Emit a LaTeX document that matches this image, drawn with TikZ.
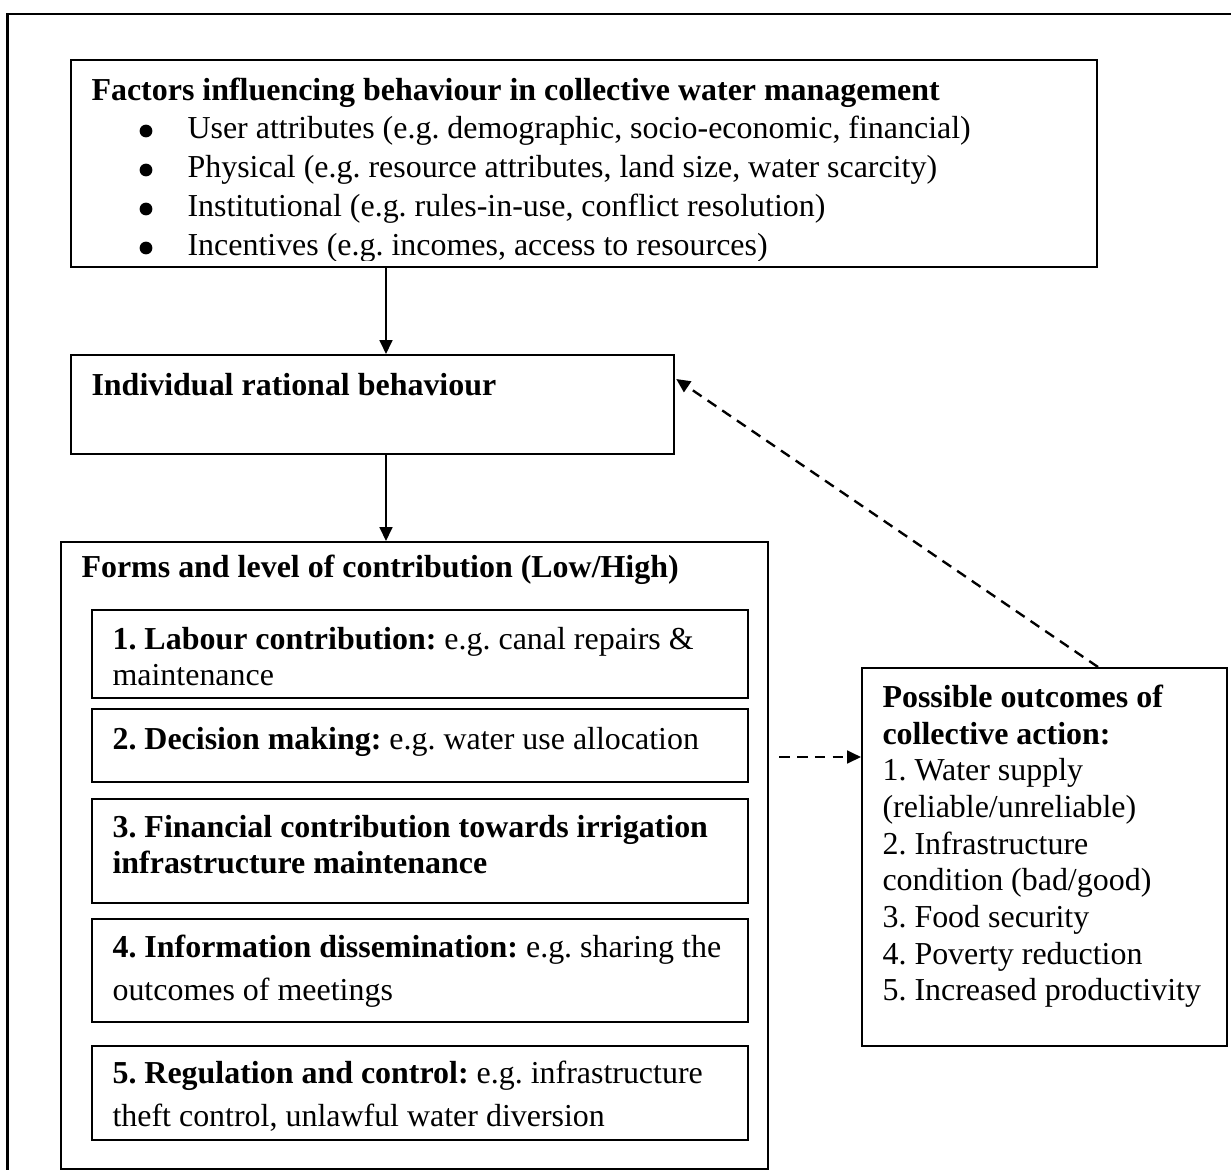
\documentclass[tikz,border=0pt]{standalone}
\usepackage{fontspec}
\setmainfont{Liberation Serif}
\usetikzlibrary{arrows.meta,calc}
\begin{document}
\frenchspacing
\begin{tikzpicture}[x=0.36pt,y=-0.36pt,
  box/.style={draw, line width=0.8pt, rectangle, inner sep=0pt, anchor=north west},
  txt/.style={anchor=base west, inner sep=0pt, font=\fontsize{11.5}{14}\selectfont},
  btxt/.style={anchor=base west, inner sep=0pt, font=\fontsize{11.5}{14}\selectfont\bfseries},
  bul/.style={circle, fill, inner sep=0pt, minimum size=4.6pt},
  arr/.style={line width=0.85pt, -{Triangle[length=5pt,width=4.6pt]}},
  darr/.style={arr, dash pattern=on 3.8pt off 2.6pt}]
\useasboundingbox (0,0) rectangle (1231,1170);
% outer frame (runs off the page to the right and bottom)
\draw[line width=0.95pt] (7.5,1180) -- (7.5,14) -- (1240,14);

% ---- top box
\node[box, minimum width=369.36pt, minimum height=74.52pt] (top) at (70,59) {};
\node[btxt] (ttl) at (91,100) {Factors influencing behaviour in collective water management};
\node[bul] (b1) at (146,131) {}; \node[txt] (l1) at (187,138) {User attributes (e.g. demographic, socio-economic, financial)};
\node[bul] (b2) at (146,170) {}; \node[txt] (l2) at (187,177) {Physical (e.g. resource attributes, land size, water scarcity)};
\node[bul] (b3) at (146,209) {}; \node[txt] (l3) at (187,216) {Institutional (e.g. rules-in-use, conflict resolution)};
\node[bul] (b4) at (146,248) {};
\begin{scope}
\clip (70,59) rectangle (1096,260);
\node[txt] (l4) at (187,255) {Incentives (e.g. incomes, access to resources)};
\end{scope}

% ---- individual box
\node[box, minimum width=217.08pt, minimum height=35.64pt] (ind) at (70,354) {};
\node[btxt] (indt) at (91,395) {Individual rational behaviour};

% ---- forms box
\node[box, minimum width=254.52pt, minimum height=225.72pt] (forms) at (60,541) {};
\node[btxt] (formst) at (81,577) {Forms and level of contribution (Low/High)};

\node[box, minimum width=236.16pt, minimum height=31.68pt] (c1) at (91,609) {};
\node[txt] (c1a) at (112,649) {\textbf{1. Labour contribution:} e.g. canal repairs \&};
\node[txt] (c1b) at (112,685) {maintenance};

\node[box, minimum width=236.16pt, minimum height=26.28pt] (c2) at (91,708) {};
\node[txt] (c2a) at (112,749) {\textbf{2. Decision making:} e.g. water use allocation};

\node[box, minimum width=236.16pt, minimum height=37.44pt] (c3) at (91,798) {};
\node[btxt] (c3a) at (112,837) {3. Financial contribution towards irrigation};
\node[btxt] (c3b) at (112,873) {infrastructure maintenance};

\node[box, minimum width=236.16pt, minimum height=37.08pt] (c4) at (91,918) {};
\node[txt] (c4a) at (112,957) {\textbf{4. Information dissemination:} e.g. sharing the};
\node[txt] (c4b) at (112,1000) {outcomes of meetings};

\node[box, minimum width=236.16pt, minimum height=33.84pt] (c5) at (91,1045) {};
\node[txt] (c5a) at (112,1083) {\textbf{5. Regulation and control:} e.g. infrastructure};
\begin{scope}
\clip (91,1045) rectangle (747,1130);
\node[txt] (c5b) at (112,1126) {theft control, unlawful water diversion};
\end{scope}

% ---- outcomes box
\node[box, minimum width=131.4pt, minimum height=136.08pt] (out) at (861,667) {};
\node[btxt] (o1) at (882,707) {Possible outcomes of};
\node[btxt] (o2) at (882,744) {collective action:};
\node[txt] (o3) at (882,780) {1. Water supply};
\node[txt] (o4) at (882,817) {(reliable/unreliable)};
\node[txt] (o5) at (882,854) {2. Infrastructure};
\node[txt] (o6) at (882,890) {condition (bad/good)};
\node[txt] (o7) at (882,927) {3. Food security};
\node[txt] (o8) at (882,964) {4. Poverty reduction};
\node[txt] (o9) at (882,1000) {5. Increased productivity};

% ---- connectors
\draw[arr] ($(top.south west)+(316,0)$) -- ($(ind.north west)+(316,0)$);
\draw[arr] ($(ind.south west)+(316,0)$) -- ($(forms.north west)+(326,0)$);
\draw[darr] ($(forms.north east)+(10,216)$) -- ($(out.north west)+(0,90)$);
\draw[darr] ($(out.north west)+(237,0)$) -- ($(ind.north east)+(1,25)$);
\end{tikzpicture}
\end{document}
